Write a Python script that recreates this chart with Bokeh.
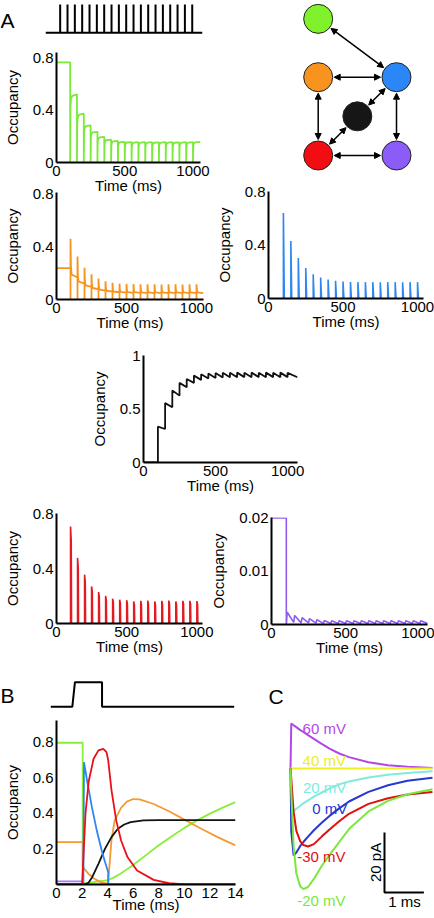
import math
from bokeh.plotting import figure
from bokeh.models import (Range1d, FixedTicker, Column, ColumnDataSource, Arrow,
                          NormalHead, Label)
from bokeh.core.properties import value
from bokeh.embed import file_html
from bokeh.resources import INLINE

FONT = "Liberation Sans"
W, H = 434, 918

# ---------------- data ----------------
SPIKE_T = [100, 150, 200, 250, 300, 350, 400, 450, 500, 550,
           600, 650, 700, 750, 800, 850, 900, 950, 1000]

GREEN_PRE = 0.765
GREEN_PEAK = [0.52, 0.373, 0.284, 0.234, 0.195, 0.175, 0.165, 0.158, 0.156, 0.155,
              0.155, 0.155, 0.154, 0.155, 0.155, 0.154, 0.155, 0.155, 0.157]

ORANGE_PRE = 0.238
ORANGE_PEAK = [0.459, 0.326, 0.241, 0.191, 0.158, 0.138, 0.126, 0.12, 0.118, 0.116,
               0.115, 0.115, 0.115, 0.114, 0.115, 0.115, 0.114, 0.115, 0.115]
ORANGE_TROUGH = [0.166, 0.12, 0.095, 0.078, 0.068, 0.06, 0.055, 0.052, 0.05, 0.05,
                 0.049, 0.049, 0.049, 0.048, 0.049, 0.049, 0.048, 0.049, 0.049]

BLUE_PEAK = [0.643, 0.433, 0.305, 0.23, 0.183, 0.158, 0.143, 0.133, 0.128, 0.125,
             0.123, 0.123, 0.123, 0.122, 0.123, 0.123, 0.122, 0.123, 0.123]

BLACK_PEAK = [0.335, 0.555, 0.672, 0.744, 0.78, 0.812, 0.825, 0.832, 0.836, 0.838,
              0.838, 0.84, 0.838, 0.84, 0.838, 0.84, 0.838, 0.84, 0.838]
BLACK_TROUGH = [0.313, 0.516, 0.625, 0.703, 0.744, 0.772, 0.785, 0.79, 0.795, 0.797,
                0.797, 0.798, 0.797, 0.798, 0.797, 0.798, 0.797, 0.798, 0.797]

RED_PEAK = [0.706, 0.477, 0.355, 0.27, 0.229, 0.2, 0.18, 0.173, 0.17, 0.16,
            0.165, 0.167, 0.16, 0.165, 0.167, 0.16, 0.165, 0.165, 0.163]

PURPLE_PRE = 0.0199
PURPLE_PEAK = [0.0023, 0.0017, 0.0013, 0.0011, 0.0009, 0.00075, 0.0007, 0.0007, 0.0007, 0.0007,
               0.0007, 0.0007, 0.0007, 0.0007, 0.0007, 0.0007, 0.0007, 0.0007, 0.0007]
PURPLE_TROUGH = [0.0004, 0.0003, 0.0003, 0.00025, 0.0002, 0.0002, 0.0002, 0.0002, 0.0002, 0.0002,
                 0.0002, 0.0002, 0.0002, 0.0002, 0.0002, 0.0002, 0.0002, 0.0002, 0.0002]

A_X_TICKS = [0, 500, 1000]
A_X_LABELS = ["0", "500", "1000"]
OCC_TICKS = [0, 0.4, 0.8]
OCC_LABELS = ["0", "0.4", "0.8"]
BLACK_TICKS = [0, 0.5, 1]
BLACK_LABELS = ["0", "0.5", "1"]
PURPLE_TICKS = [0, 0.01, 0.02]
PURPLE_LABELS = ["0", "0.01", "0.02"]

# Panel B (time in ms)
B_STIM_T = [0, 1.65, 1.85, 3.9, 3.9, 13.9]
B_STIM_V = [0, 0, 1, 1, 0, 0]
B_GREEN_T = [0, 2.05, 2.05, 4.05, 4.5, 5, 5.5, 6, 7, 8, 9, 10, 11, 12, 13, 14]
B_GREEN_V = [0.796, 0.796, 0.005, 0.025, 0.04, 0.06, 0.085, 0.11, 0.165, 0.22, 0.27, 0.318,
             0.36, 0.398, 0.432, 0.463]
B_ORANGE_T = [0, 2.05, 2.05, 2.5, 3, 3.5, 4.0, 4.05, 4.3, 4.55, 5.05, 5.5, 6.0, 6.5, 7.6,
              8.84, 10.1, 11.4, 12.6, 14]
B_ORANGE_V = [0.238, 0.238, 0.1, 0.06, 0.03, 0.012, 0.005, 0.02, 0.25, 0.36, 0.43, 0.465,
              0.48, 0.478, 0.452, 0.41, 0.36, 0.31, 0.266, 0.22]
B_BLUE_T = [0, 2.1, 2.15, 2.4, 2.78, 3.16, 3.54, 3.8, 4.04, 4.05, 14]
B_BLUE_V = [0, 0, 0.687, 0.58, 0.43, 0.30, 0.19, 0.125, 0.07, 0, 0]
B_RED_T = [0, 2.0, 2.07, 2.27, 2.52, 2.9, 3.28, 3.66, 3.91, 4.04, 4.3, 4.67, 5.05, 5.55,
           6.3, 7.6, 8.8, 10.1, 14]
B_RED_V = [0, 0, 0.1, 0.4, 0.58, 0.706, 0.753, 0.762, 0.743, 0.70, 0.53, 0.36, 0.247,
           0.154, 0.079, 0.026, 0.007, 0, 0]
B_BLACK_T = [0, 2.2, 2.5, 2.78, 3.28, 3.79, 4.3, 4.8, 5.3, 5.8, 6.8, 8, 14]
B_BLACK_V = [0, 0, 0.01, 0.04, 0.116, 0.2, 0.266, 0.313, 0.337, 0.35, 0.36, 0.362, 0.362]
B_PURPLE_T = [0, 2.05, 2.05, 14]
B_PURPLE_V = [0.017, 0.017, 0, 0]
B_X_TICKS = [0, 2, 4, 6, 8, 10, 12, 14]
B_X_LABELS = ["0", "2", "4", "6", "8", "10", "12", "14"]
B_Y_TICKS = [0.2, 0.4, 0.6, 0.8]
B_Y_LABELS = ["0.2", "0.4", "0.6", "0.8"]

# Panel C (time ms, current pA)
C_T = [0, 0.02, 0.08, 0.15, 0.25, 0.33, 0.45, 0.6, 0.8, 1.0, 1.25, 1.5, 2.0, 2.5, 3.0, 3.64]
C_60 = [0, 15.0, 14.4, 13.8, 12.8, 12.2, 11.1, 9.9, 8.2, 6.6, 5.0, 3.8, 2.1, 1.1, 0.6, 0.2]
C_40 = [0, 0, 0, 0, 0, 0, 0, 0, 0, 0, 0, 0, 0, 0, 0, 0]
C_20 = [0, -14.9, -14.2, -13.4, -12.4, -11.6, -10.6, -9.4, -8.0, -6.7, -5.3, -4.3, -3.0,
        -2.1, -1.5, -0.9]
C_0 = [0, -21.0, -29.0, -28.0, -25.8, -24.5, -22.7, -20.6, -18.1, -15.8, -13.3, -11.0,
       -7.8, -5.6, -4.1, -3.1]
C_M30 = [0, -3.5, -14.5, -20.8, -24.3, -25.5, -26.0, -25.2, -22.7, -20.3, -17.6, -15.1,
         -11.8, -9.9, -8.7, -7.8]
C_M20 = [0, -8.0, -26.0, -35.0, -39.3, -40.2, -39.5, -36.8, -32.5, -28.8, -24.5, -20.2,
         -14.3, -10.8, -8.6, -6.9]
C_NAMES = ["60 mV", "40 mV", "20 mV", "0 mV", "-30 mV", "-20 mV"]

# Kinetic scheme
NODE_NAMES = ["green", "orange", "blue", "black", "red", "purple"]
NODE_COL = [0, 0, 1, 0.5, 0, 1]
NODE_ROW = [1.745, 1, 1, 0.5, 0, 0]
EDGES = [("green", "blue"), ("orange", "blue"), ("orange", "red"), ("blue", "purple"),
         ("red", "purple"), ("black", "blue"), ("black", "red")]

# ---------------- styles ----------------
COL_A = {"green": "#7AEA38", "orange": "#F7941D", "blue": "#2F86F0", "black": "#111111",
         "red": "#E31A22", "purple": "#8C5CF0"}
COL_NODE = {"green": "#7FF22B", "orange": "#F7931E", "blue": "#2B87F7", "black": "#161616",
            "red": "#F20D12", "purple": "#8B5CF7"}
COL_B = {"green": "#88EE38", "orange": "#F39A33", "blue": "#2F86F0", "black": "#111111",
         "red": "#E8101A", "purple": "#A57BF5"}
COL_C = ["#B347E6", "#EEEE22", "#7FEBDD", "#2638D0", "#E01010", "#7AE83A"]

figs = []


def mk(L, R, T, B, xr, yr, axes=True):
    kw = {} if axes else dict(x_axis_type=None, y_axis_type=None)
    p = figure(width=W, height=H, x_range=Range1d(*xr), y_range=Range1d(*yr),
               output_backend="svg", toolbar_location=None, frame_align=False,
               min_border_left=round(L), min_border_right=round(W - R),
               min_border_top=round(T), min_border_bottom=round(H - B),
               margin=(0, 0, 0, 0) if not figs else (-H, 0, 0, 0), **kw)
    p.background_fill_color = None
    p.border_fill_color = None
    p.outline_line_color = None
    for g in p.grid:
        g.visible = False
    figs.append(p)
    return p


def style_axes(p, xt, xl, yt, yl, xlabel="Time (ms)", ylabel="Occupancy", xstand=-2):
    for ax in (p.xaxis[0], p.yaxis[0]):
        ax.axis_line_width = 2
        ax.axis_line_color = "black"
        ax.major_tick_line_color = None
        ax.minor_tick_line_color = None
        ax.major_tick_in = 0
        ax.major_tick_out = 0
        ax.major_label_text_font = FONT
        ax.major_label_text_font_size = "15px"
        ax.major_label_text_color = "black"
        ax.axis_label_text_font = FONT
        ax.axis_label_text_font_size = "15px"
        ax.axis_label_text_font_style = "normal"
        ax.axis_label_text_color = "black"
        ax.major_label_standoff = 3
    p.xaxis.ticker = FixedTicker(ticks=xt)
    p.xaxis.major_label_overrides = dict(zip(xt, xl))
    p.yaxis.ticker = FixedTicker(ticks=yt)
    p.yaxis.major_label_overrides = dict(zip(yt, yl))
    p.xaxis.axis_label = xlabel
    p.yaxis.axis_label = ylabel
    p.xaxis.axis_label_standoff = xstand
    p.yaxis.axis_label_standoff = 9


def nxt_time(k, t_end):
    return SPIKE_T[k + 1] if k + 1 < len(SPIKE_T) else t_end


# ---- A: stimulus train ----
p = mk(45, 202, 2, 34, (0, 1070), (-0.06, 1.07), axes=False)
xs, ys = [0], [0]
for t in SPIKE_T:
    xs += [t, t, t]
    ys += [0, 1, 0]
xs.append(1070); ys.append(0)
p.line(xs, ys, line_color="black", line_width=2)

# ---- A: green ----
p = mk(46, 200, 52, 162, (0, 1055), (0, 0.84))
xs, ys = [0, SPIKE_T[0]], [GREEN_PRE, GREEN_PRE]
for k, t in enumerate(SPIKE_T):
    pk = GREEN_PEAK[k]
    xs += [t, t + 2, t + 6, t + 16, nxt_time(k, 1055)]
    ys += [0, 0.8 * pk, 0.93 * pk, 0.98 * pk, pk]
p.line(xs, ys, line_color=COL_A["green"], line_width=1.8)
style_axes(p, A_X_TICKS, A_X_LABELS, OCC_TICKS, OCC_LABELS)

# ---- A: orange ----
p = mk(47, 203, 192, 299, (0, 1050), (0, 0.81))
xs, ys = [0, SPIKE_T[0]], [ORANGE_PRE, ORANGE_PRE]
for k, t in enumerate(SPIKE_T):
    pk, tr = ORANGE_PEAK[k], ORANGE_TROUGH[k]
    xs += [t, t, t + 3, t + 8, nxt_time(k, 1050)]
    ys += [0, pk, tr + 0.3 * (pk - tr), tr + 0.08 * (pk - tr), tr]
p.line(xs, ys, line_color=COL_A["orange"], line_width=1.8)
style_axes(p, A_X_TICKS, A_X_LABELS, OCC_TICKS, OCC_LABELS)

# ---- A: blue ----
p = mk(268, 423, 191, 298, (0, 1040), (0, 0.805))
p.multi_line([[t, t, t + 6] for t in SPIKE_T], [[0, pk, 0] for pk in BLUE_PEAK],
             line_color=COL_A["blue"], line_width=1.6)
style_axes(p, A_X_TICKS, A_X_LABELS, OCC_TICKS, OCC_LABELS)

# ---- A: black ----
p = mk(143, 297, 355, 462, (0, 1069), (0, 1.0))
xs, ys = [0, SPIKE_T[0]], [0, 0]
for k, t in enumerate(SPIKE_T):
    xs += [t, nxt_time(k, 1069)]
    ys += [BLACK_PEAK[k], BLACK_TROUGH[k]]
p.line(xs, ys, line_color=COL_A["black"], line_width=1.8)
style_axes(p, A_X_TICKS, A_X_LABELS, BLACK_TICKS, BLACK_LABELS)

# ---- A: red ----
p = mk(48, 202, 513, 623, (0, 1040), (0, 0.8))
p.multi_line([[t, t, t + 5, t + 7] for t in SPIKE_T],
             [[0, pk, 0.85 * pk, 0] for pk in RED_PEAK],
             line_color=COL_A["red"], line_width=1.6)
style_axes(p, A_X_TICKS, A_X_LABELS, OCC_TICKS, OCC_LABELS)

# ---- A: purple ----
p = mk(271, 427, 517, 624, (0, 1052), (0, 0.02))
xs, ys = [0, SPIKE_T[0], SPIKE_T[0]], [PURPLE_PRE, PURPLE_PRE, 0]
for k, t in enumerate(SPIKE_T):
    xs += [t + 6, nxt_time(k, 1052)]
    ys += [PURPLE_PEAK[k], PURPLE_TROUGH[k]]
p.line(xs, ys, line_color=COL_A["purple"], line_width=1.6)
style_axes(p, A_X_TICKS, A_X_LABELS, PURPLE_TICKS, PURPLE_LABELS)

# ---- kinetic scheme ----
UNIT = 78.3
OX, OY = 317.7, 155.0
NL, NR, NT, NB = 294, 420, 1, 175
p = mk(NL, NR, NT, NB, ((NL - OX) / UNIT, (NR - OX) / UNIT),
       ((OY - NB) / UNIT, (OY - NT) / UNIT), axes=False)
idx = {n: i for i, n in enumerate(NODE_NAMES)}
r = 16.0 / UNIT
x0s, y0s, x1s, y1s = [], [], [], []
for a, b in EDGES:
    xa, ya = NODE_COL[idx[a]], NODE_ROW[idx[a]]
    xb, yb = NODE_COL[idx[b]], NODE_ROW[idx[b]]
    d = math.hypot(xb - xa, yb - ya)
    ux, uy = (xb - xa) / d, (yb - ya) / d
    x0s.append(xa + ux * r); y0s.append(ya + uy * r)
    x1s.append(xb - ux * r); y1s.append(yb - uy * r)
src = ColumnDataSource(dict(x0=x0s, y0=y0s, x1=x1s, y1=y1s))
p.add_layout(Arrow(start=NormalHead(size=6, fill_color="black", line_color="black", line_width=1),
                   end=NormalHead(size=6, fill_color="black", line_color="black", line_width=1),
                   x_start="x0", y_start="y0", x_end="x1", y_end="y1", source=src,
                   line_color="black", line_width=1.5))
p.scatter(NODE_COL, NODE_ROW, size=29, marker="circle",
          fill_color=[COL_NODE[n] for n in NODE_NAMES], line_color="#222222", line_width=1)

# ---- B: stimulus ----
p = mk(50, 235, 678, 710, (0, 14), (-0.15, 1.15), axes=False)
p.line(B_STIM_T, B_STIM_V, line_color="black", line_width=2)

# ---- B: occupancies ----
p = mk(50, 235, 720, 884, (0, 14), (0, 0.921))
for t_, v_, c in [(B_PURPLE_T, B_PURPLE_V, "purple"), (B_GREEN_T, B_GREEN_V, "green"),
                  (B_ORANGE_T, B_ORANGE_V, "orange"), (B_BLACK_T, B_BLACK_V, "black"),
                  (B_BLUE_T, B_BLUE_V, "blue"), (B_RED_T, B_RED_V, "red")]:
    p.line(t_, v_, line_color=COL_B[c], line_width=1.8)
style_axes(p, B_X_TICKS, B_X_LABELS, B_Y_TICKS, B_Y_LABELS, xstand=-5)

# ---- C: currents ----
p = mk(280, 434, 705, 915, (-10 / 39, 144 / 39), (-49, 21), axes=False)
for series, c in zip([C_60, C_40, C_20, C_0, C_M30, C_M20], COL_C):
    p.line(C_T, series, line_color=c, line_width=2)
lab_src = ColumnDataSource(dict(x=[0.31, 0.31, 0.32, 0.56, 0.17, 0.17],
                                y=[13.3, 2.7, -6.3, -13.3, -29.3, -44.0],
                                t=C_NAMES, c=COL_C))
p.text(x="x", y="y", text="t", text_color="c", source=lab_src, text_font=value(FONT),
       text_font_size="15px", text_baseline="middle", text_align="left")
p.line([2.41, 2.41, 3.42], [-21.3, -41.3, -41.3], line_color="black", line_width=2)
p.text(x=[2.18], y=[-31.3], text=["20 pA"], angle=math.pi / 2, text_font=value(FONT),
       text_font_size="15px", text_align="center", text_baseline="middle", text_color="black")
p.text(x=[2.92], y=[-44.2], text=["1 ms"], text_font=value(FONT), text_font_size="15px",
       text_align="center", text_baseline="middle", text_color="black")

# ---- panel letters ----
p = mk(0, W, 0, H, (0, W), (H, 0), axes=False)
for txt, x, y in [("A", 0.0, 19.5), ("B", 0.0, 694.5), ("C", 268.0, 696.0)]:
    p.add_layout(Label(x=x, y=y, text=txt, text_font=FONT, text_font_size="21px",
                       text_baseline="alphabetic", text_color="black"))

root = Column(children=figs)
open("out.html", "w").write(file_html(root, INLINE))
